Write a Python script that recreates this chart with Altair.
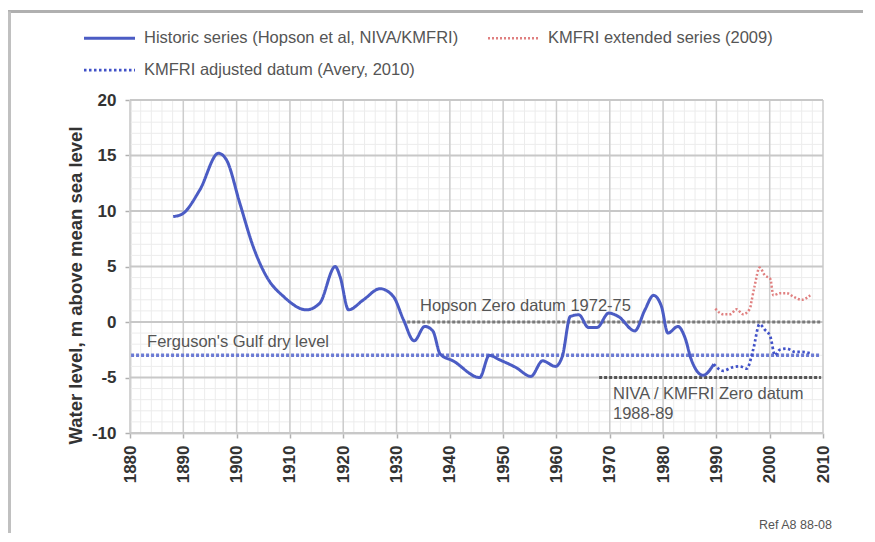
import altair as alt
import pandas as pd

# ---------------- data ----------------
hist_year = [1888.1, 1889.7, 1893.1, 1896.6, 1898.1, 1900.6, 1903.1, 1905.6, 1908.8,
             1913.1, 1915.6, 1918.5, 1919.4, 1921.0, 1923.8, 1926.9, 1929.4, 1931.3,
             1933.3, 1935.3, 1936.8, 1938.2, 1940.6, 1945.6, 1947.4, 1949.3, 1952.4,
             1955.2, 1957.4, 1959.8, 1961.1, 1962.6, 1964.2, 1966.0, 1967.6, 1969.8,
             1971.6, 1974.7, 1976.6, 1978.2, 1979.7, 1980.9, 1982.8, 1984.1, 1985.3,
             1987.5, 1989.5]
hist_level = [9.5, 9.7, 11.9, 15.2, 14.6, 10.7, 6.8, 4.1, 2.3,
              1.1, 1.7, 5.0, 4.1, 1.1, 2.0, 3.0, 2.3, 0.2,
              -1.7, -0.4, -0.8, -2.9, -3.5, -5.0, -3.0, -3.4, -4.1,
              -4.9, -3.5, -4.0, -3.1, 0.5, 0.65, -0.5, -0.5, 0.8,
              0.5, -0.8, 1.1, 2.4, 1.4, -1.0, -0.4, -1.4, -3.4,
              -4.8, -3.8]

ext_year = [1989.8, 1991.3, 1992.6, 1993.8, 1995.0, 1996.3, 1996.6, 1997.2, 1998.1,
            1999.1, 2000.1, 2000.7, 2001.9, 2003.2, 2004.4, 2006.0, 2007.6]
ext_level = [1.2, 0.7, 0.7, 1.15, 0.7, 1.2, 1.9, 3.3, 4.9,
             4.2, 3.9, 2.4, 2.6, 2.6, 2.3, 2.0, 2.4]

adj_year = [1989.5, 1991.3, 1992.9, 1994.4, 1995.7, 1996.9, 1998.1, 1999.1, 2000.1,
            2001.0, 2001.9, 2003.2, 2004.8, 2006.0, 2007.6]
adj_level = [-3.8, -4.4, -4.1, -4.0, -4.2, -2.5, -0.2, -0.7, -1.3,
             -3.0, -2.5, -2.4, -2.7, -2.7, -2.8]

series_names = ["Historic series (Hopson et al, NIVA/KMFRI)",
                "KMFRI extended series (2009)",
                "KMFRI adjusted datum (Avery, 2010)"]
# legend is filled column by column: this order gives
# row 1: historic | extended, row 2: adjusted
legend_order = [series_names[0], series_names[2], series_names[1]]
series_colors = ["#4b5cc4", "#4152c8", "#e08080"]
series_dash = [[1, 0], [2.5, 2.5], [2, 2]]
series_width = [3, 2.5, 2]

# reference levels
ref_names = ["Ferguson's Gulf dry level", "Hopson Zero datum 1972-75", "NIVA / KMFRI Zero datum 1988-89"]
ref_level = [-3.0, 0.0, -5.0]
ref_start = [1880.2, 1932.0, 1968.0]
ref_end = [2009.6, 2009.6, 2009.6]

# annotation texts
note_text = ["Ferguson's Gulf dry level", "Hopson Zero datum 1972-75", "NIVA / KMFRI Zero datum", "1988-89"]
note_year = [1883.2, 1934.4, 1970.6, 1970.6]
note_level = [-2.25, 1.0, -6.9, -8.7]

x_ticks = list(range(1880, 2011, 10))
y_ticks = list(range(-10, 21, 5))
minor_years = list(range(1880, 2011, 2))
minor_levels = list(range(-10, 21, 1))

FONT = "Liberation Sans"

# ---------------- tables ----------------
df = pd.concat([
    pd.DataFrame({"year": hist_year, "level": hist_level, "series": series_names[0]}),
    pd.DataFrame({"year": ext_year, "level": ext_level, "series": series_names[1]}),
    pd.DataFrame({"year": adj_year, "level": adj_level, "series": series_names[2]}),
], ignore_index=True)
df["order"] = range(len(df))

ref_df = pd.DataFrame({"name": ref_names, "level": ref_level, "start": ref_start, "end": ref_end})
note_df = pd.DataFrame({"text": note_text, "year": note_year, "level": note_level})

xs = alt.Scale(domain=[1880, 2010], nice=False, zero=False)
ys = alt.Scale(domain=[-10, 20], nice=False, zero=False)

x_axis = alt.Axis(values=x_ticks, format="d", title=None, grid=False, labelAngle=270,
                  labelFlush=False, labelFont=FONT, labelFontSize=17, labelFontWeight="bold",
                  labelColor="#333333", labelPadding=7, tickSize=5, tickColor="#b0b0b0",
                  tickWidth=1.5, domainColor="#d4d4d4", domainWidth=2)
y_axis = alt.Axis(values=y_ticks, title="Water level, m above mean sea level", grid=False,
                  labelExpr="datum.value + ''",
                  labelFlush=False, labelFont=FONT, labelFontSize=17, labelFontWeight="bold",
                  labelColor="#333333", labelPadding=9, tickSize=5, tickColor="#b0b0b0",
                  tickWidth=1.5, domainColor="#d4d4d4", domainWidth=2,
                  titleFont=FONT, titleFontSize=18.5, titleFontWeight="bold",
                  titleColor="#333333", titleX=-55, titleY=185, titleBaseline="middle")


def X(field):
    return alt.X(field, scale=xs, axis=x_axis)


def Y(field):
    return alt.Y(field, scale=ys, axis=y_axis)


# ---------------- grid ----------------
vminor = alt.Chart(pd.DataFrame({"year": minor_years})).mark_rule(color="#ececec", strokeWidth=1).encode(
    x=X("year:Q"))
hminor = alt.Chart(pd.DataFrame({"level": minor_levels})).mark_rule(color="#ececec", strokeWidth=1).encode(
    y=Y("level:Q"))
vmajor = alt.Chart(pd.DataFrame({"year": x_ticks})).mark_rule(color="#cdcdcd", strokeWidth=1.5).encode(
    x=X("year:Q"))
hmajor = alt.Chart(pd.DataFrame({"level": y_ticks})).mark_rule(color="#c8c8c8", strokeWidth=1.8).encode(
    y=Y("level:Q"))

# ---------------- reference lines ----------------
ref_colors = ["#6c7bd4", "#7a7a7a", "#555555"]
ref_layers = []
for i in range(3):
    ref_layers.append(
        alt.Chart(ref_df.iloc[[i]]).mark_rule(color=ref_colors[i], strokeWidth=3.5 if i == 0 else 3,
                                            strokeDash=[3, 2]).encode(
            x=X("start:Q"), x2="end:Q", y=Y("level:Q")))

notes = alt.Chart(note_df).mark_text(align="left", baseline="alphabetic", font=FONT, fontSize=16.5,
                                     color="#555555").encode(
    x=X("year:Q"), y=Y("level:Q"), text="text:N")

# ---------------- series ----------------
leg = alt.Legend(title=None, orient="none", legendX=-30.5, legendY=-72, columns=2, padding=0,
                 symbolType="M-3,0H3", symbolSize=289, labelOffset=24.5, columnPadding=24,
                 rowPadding=13, labelFont=FONT, labelFontSize=16.5, labelColor="#555555",
                 labelLimit=500)

lines = alt.Chart(df).mark_line(interpolate="monotone").encode(
    x=X("year:Q"),
    y=Y("level:Q"),
    color=alt.Color("series:N", scale=alt.Scale(domain=legend_order, range=series_colors), legend=leg),
    strokeDash=alt.StrokeDash("series:N", scale=alt.Scale(domain=legend_order, range=series_dash),
                              legend=leg),
    strokeWidth=alt.StrokeWidth("series:N", scale=alt.Scale(domain=legend_order, range=series_width),
                                legend=leg),
    order="order:Q",
)

# ---------------- frame and reference tag ----------------
frame_top = alt.Chart(pd.DataFrame({"k": [0]})).mark_rule(color="#b0b0b0", strokeWidth=3).encode(
    x=alt.value(-122), x2=alt.value(733), y=alt.value(-88.5))
frame_left = alt.Chart(pd.DataFrame({"k": [0]})).mark_rule(color="#c0c0c0", strokeWidth=3).encode(
    x=alt.value(-120.5), y=alt.value(-88.5), y2=alt.value(433))
tag = alt.Chart(pd.DataFrame({"t": ["Ref A8 88-08"]})).mark_text(
    align="right", baseline="alphabetic", font=FONT, fontSize=12.5, color="#555555").encode(
    x=alt.value(702), y=alt.value(429), text="t:N")

chart = alt.layer(
    vminor, hminor, vmajor, hmajor, *ref_layers, notes, lines, frame_top, frame_left, tag
).properties(
    width=693, height=333,
    autosize=alt.AutoSizeParams(type="none"),
    padding={"left": 122, "top": 92, "right": 40, "bottom": 100},
    background="white",
).configure_view(stroke=None)

chart.save("out.html", embed_options={"renderer": "svg", "actions": False})
